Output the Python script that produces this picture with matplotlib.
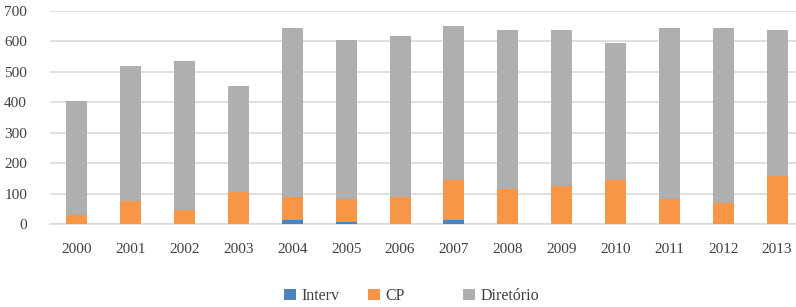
import matplotlib
matplotlib.use("Agg")
import matplotlib.pyplot as plt
import numpy as np

years = ["2000", "2001", "2002", "2003", "2004", "2005", "2006",
         "2007", "2008", "2009", "2010", "2011", "2012", "2013"]
interv = [0, 0, 0, 0, 13, 7, 0, 13, 0, 0, 0, 0, 0, 0]
cp = [28, 77, 47, 104, 77, 75, 90, 132, 116, 125, 145, 82, 68, 159]
diretorio = [377, 443, 488, 348, 555, 523, 528, 507, 521, 512, 451, 562, 576, 478]

plt.rcParams['font.family'] = ['Liberation Serif', 'DejaVu Serif']
W, H = 796, 307
fig = plt.figure(figsize=(W / 100, H / 100), dpi=100)
# axes spans x 50..804 px (right side clipped like the reference), y 11..224 px
ax = fig.add_axes([50 / W, (H - 224) / H, 754 / W, 213 / H])

x = np.arange(len(years))
w = 0.39
c_int, c_cp, c_dir = "#4F81BD", "#F79646", "#AFAFAF"
b1 = ax.bar(x, interv, w, color=c_int, label="Interv", zorder=3)
b2 = ax.bar(x, cp, w, bottom=interv, color=c_cp, label="CP", zorder=3)
bottom2 = np.array(interv) + np.array(cp)
b3 = ax.bar(x, diretorio, w, bottom=bottom2, color=c_dir, label="Diretório", zorder=3)

ax.set_xlim(-0.5, len(years) - 0.5)
ax.set_ylim(0, 700)
ax.set_yticks(range(0, 701, 100))
ax.set_xticks(x)
ax.set_xticklabels(years)
ax.yaxis.grid(True, color="#D9D9D9", linewidth=1.2, zorder=0)
for s in ["top", "right", "left"]:
    ax.spines[s].set_visible(False)
ax.spines["bottom"].set_color("#D9D9D9")
ax.spines["bottom"].set_linewidth(1.2)
ax.tick_params(axis="both", length=0, labelsize=11, colors="#404040")
ax.tick_params(axis="x", pad=14)
ax.tick_params(axis="y", pad=16.5)

# legend entries placed individually (Excel-style fixed spacing)
for handle, lab, xpx in [(b1, "Interv", 284), (b2, "CP", 368), (b3, "Diretório", 463)]:
    lg = fig.legend([handle], [lab], loc="center left",
                    bbox_to_anchor=(xpx / W, (H - 296) / H),
                    frameon=False, fontsize=11.5, handlelength=0.75, handleheight=0.75,
                    handletextpad=0.35, borderpad=0, borderaxespad=0)
    for t in lg.get_texts():
        t.set_color("#404040")

fig.savefig("out.png", dpi=100)
